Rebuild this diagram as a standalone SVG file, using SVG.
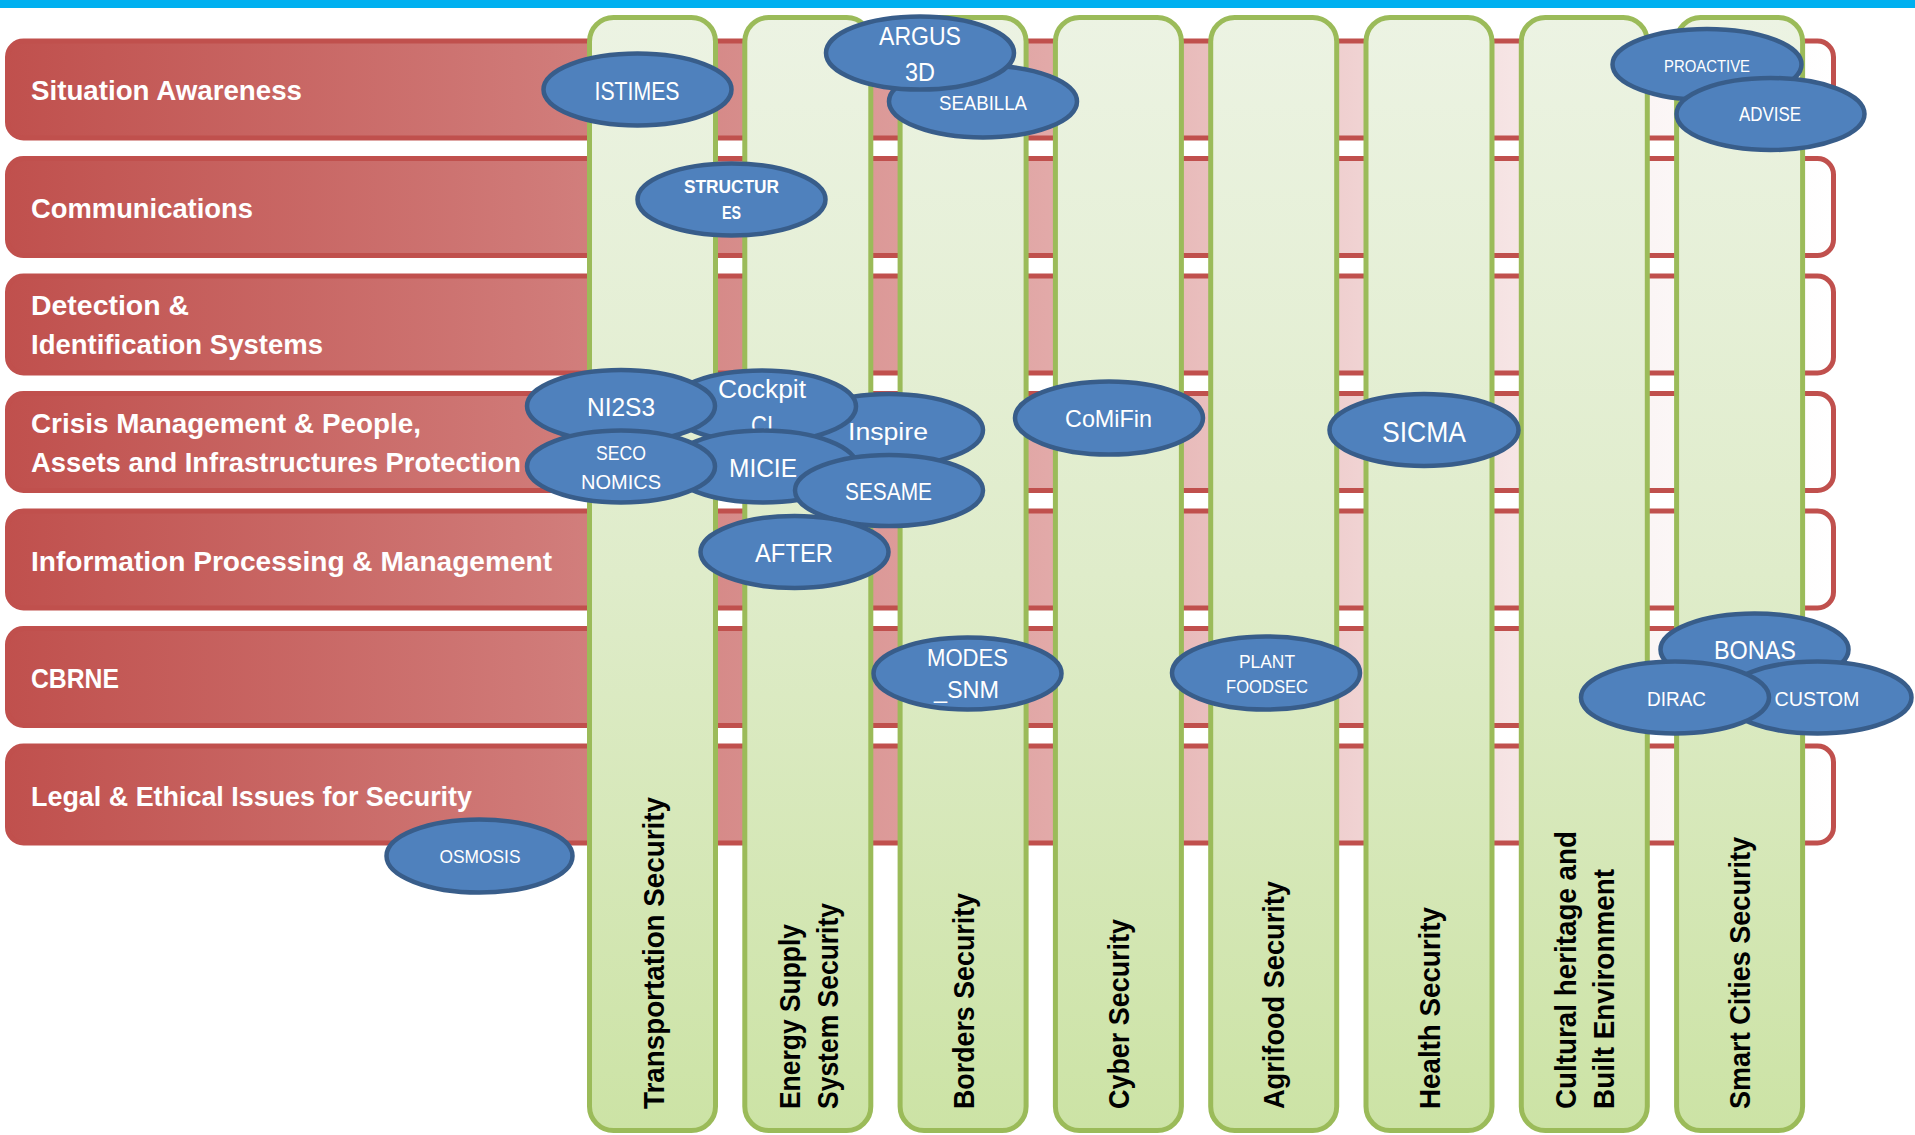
<svg xmlns="http://www.w3.org/2000/svg" width="1915" height="1135" viewBox="0 0 1915 1135">
<style>
.row{stroke:#c0504d;stroke-width:5;fill:url(#rowGrad)}
.col{stroke:#9bbb59;stroke-width:5;fill:url(#colGrad)}
.rl{font-family:"Liberation Sans",Arial,sans-serif;font-weight:bold;font-size:28px;fill:#ffffff}
.cl{font-family:"Liberation Sans",Arial,sans-serif;font-weight:bold;font-size:29px;fill:#000000}
.el{fill:#4f81bd;stroke:#385d8a;stroke-width:4.5}
.et{font-family:"Liberation Sans",Arial,sans-serif;fill:#ffffff;text-anchor:middle}
</style>
<defs>
<linearGradient id="rowGrad" gradientUnits="userSpaceOnUse" x1="5" y1="0" x2="1834" y2="0">
<stop offset="0" stop-color="#c0504d"/>
<stop offset="0.3" stop-color="#d07b79"/>
<stop offset="0.57" stop-color="#e2a9a8"/>
<stop offset="0.74" stop-color="#f0d2d2"/>
<stop offset="0.9" stop-color="#fbf5f5"/>
<stop offset="1" stop-color="#ffffff"/>
</linearGradient>
<linearGradient id="colGrad" gradientUnits="userSpaceOnUse" x1="0" y1="17" x2="0" y2="1130">
<stop offset="0" stop-color="#ecf3e3"/>
<stop offset="0.5" stop-color="#dfecca"/>
<stop offset="1" stop-color="#cce3a5"/>
</linearGradient>
</defs>
<rect x="0" y="0" width="1915" height="8" fill="#00b0f0"/>

<g id="rows">
<g id="row-situation"><rect class="row" x="7.5" y="41" width="1826" height="97" rx="16"/>
<text class="rl" x="31" y="100" textLength="271" lengthAdjust="spacingAndGlyphs">Situation Awareness</text></g>
<g id="row-communications"><rect class="row" x="7.5" y="158.5" width="1826" height="97" rx="16"/>
<text class="rl" x="31" y="218" textLength="222" lengthAdjust="spacingAndGlyphs">Communications</text></g>
<g id="row-detection"><rect class="row" x="7.5" y="276" width="1826" height="97" rx="16"/>
<text class="rl" x="31" y="315" textLength="158" lengthAdjust="spacingAndGlyphs">Detection &amp;</text>
<text class="rl" x="31" y="354" textLength="292" lengthAdjust="spacingAndGlyphs">Identification Systems</text></g>
<g id="row-crisis"><rect class="row" x="7.5" y="393.5" width="1826" height="97" rx="16"/>
<text class="rl" x="31" y="433" textLength="390" lengthAdjust="spacingAndGlyphs">Crisis Management &amp; People,</text>
<text class="rl" x="31" y="472" textLength="490" lengthAdjust="spacingAndGlyphs">Assets and Infrastructures Protection</text></g>
<g id="row-information"><rect class="row" x="7.5" y="511" width="1826" height="97" rx="16"/>
<text class="rl" x="31" y="571" textLength="521" lengthAdjust="spacingAndGlyphs">Information Processing &amp; Management</text></g>
<g id="row-cbrne"><rect class="row" x="7.5" y="628.5" width="1826" height="97" rx="16"/>
<text class="rl" x="31" y="688" textLength="88" lengthAdjust="spacingAndGlyphs">CBRNE</text></g>
<g id="row-legal"><rect class="row" x="7.5" y="746" width="1826" height="97" rx="16"/>
<text class="rl" x="31" y="806" textLength="441" lengthAdjust="spacingAndGlyphs">Legal &amp; Ethical Issues for Security</text></g>
</g>

<g id="columns">
<g id="col-transport"><rect class="col" x="589.5" y="17.5" width="126" height="1113" rx="24"/>
<text class="cl" transform="translate(664,1109) rotate(-90)" textLength="312" lengthAdjust="spacingAndGlyphs">Transportation Security</text></g>
<g id="col-energy"><rect class="col" x="744.8" y="17.5" width="126" height="1113" rx="24"/>
<text class="cl" transform="translate(800,1109) rotate(-90)" textLength="185" lengthAdjust="spacingAndGlyphs">Energy Supply</text>
<text class="cl" transform="translate(838,1109) rotate(-90)" textLength="206" lengthAdjust="spacingAndGlyphs">System Security</text></g>
<g id="col-borders"><rect class="col" x="900.1" y="17.5" width="126" height="1113" rx="24"/>
<text class="cl" transform="translate(974,1109) rotate(-90)" textLength="216" lengthAdjust="spacingAndGlyphs">Borders Security</text></g>
<g id="col-cyber"><rect class="col" x="1055.4" y="17.5" width="126" height="1113" rx="24"/>
<text class="cl" transform="translate(1129,1109) rotate(-90)" textLength="190" lengthAdjust="spacingAndGlyphs">Cyber Security</text></g>
<g id="col-agrifood"><rect class="col" x="1210.7" y="17.5" width="126" height="1113" rx="24"/>
<text class="cl" transform="translate(1284,1109) rotate(-90)" textLength="228" lengthAdjust="spacingAndGlyphs">Agrifood Security</text></g>
<g id="col-health"><rect class="col" x="1366" y="17.5" width="126" height="1113" rx="24"/>
<text class="cl" transform="translate(1440,1109) rotate(-90)" textLength="202" lengthAdjust="spacingAndGlyphs">Health Security</text></g>
<g id="col-cultural"><rect class="col" x="1521.3" y="17.5" width="126" height="1113" rx="24"/>
<text class="cl" transform="translate(1576,1109) rotate(-90)" textLength="278" lengthAdjust="spacingAndGlyphs">Cultural heritage and</text>
<text class="cl" transform="translate(1614,1109) rotate(-90)" textLength="240" lengthAdjust="spacingAndGlyphs">Built Environment</text></g>
<g id="col-smart"><rect class="col" x="1676.6" y="17.5" width="126" height="1113" rx="24"/>
<text class="cl" transform="translate(1750,1109) rotate(-90)" textLength="272" lengthAdjust="spacingAndGlyphs">Smart Cities Security</text></g>
</g>

<g id="connectors"></g>

<g id="projects">
<g id="p-istimes"><ellipse class="el" cx="637.5" cy="89.5" rx="94" ry="36"/>
<text class="et" x="637" y="100" font-size="25" textLength="85" lengthAdjust="spacingAndGlyphs">ISTIMES</text></g>
<g id="p-seabilla"><ellipse class="el" cx="983" cy="101.5" rx="94" ry="36"/>
<text class="et" x="983" y="110" font-size="21" textLength="88" lengthAdjust="spacingAndGlyphs">SEABILLA</text></g>
<g id="p-argus"><ellipse class="el" cx="920" cy="53" rx="94" ry="36.5"/>
<text class="et" x="920" y="45" font-size="25" textLength="82" lengthAdjust="spacingAndGlyphs">ARGUS</text>
<text class="et" x="920" y="81" font-size="25" textLength="30" lengthAdjust="spacingAndGlyphs">3D</text></g>
<g id="p-structures"><ellipse class="el" cx="731.5" cy="199.5" rx="94" ry="36"/>
<text class="et" x="731.5" y="193" font-size="18.5" font-weight="bold" textLength="95" lengthAdjust="spacingAndGlyphs">STRUCTUR</text>
<text class="et" x="731.5" y="219" font-size="18.5" font-weight="bold" textLength="19" lengthAdjust="spacingAndGlyphs">ES</text></g>
<g id="p-proactive"><ellipse class="el" cx="1707" cy="64.5" rx="94.5" ry="35.5"/>
<text class="et" x="1707" y="72" font-size="17" textLength="86" lengthAdjust="spacingAndGlyphs">PROACTIVE</text></g>
<g id="p-advise"><ellipse class="el" cx="1770.5" cy="114" rx="94" ry="36"/>
<text class="et" x="1770" y="121" font-size="19.5" textLength="62" lengthAdjust="spacingAndGlyphs">ADVISE</text></g>

<g id="p-inspire"><ellipse class="el" cx="889" cy="430" rx="94" ry="36"/>
<text class="et" x="888" y="440" font-size="23.5" textLength="80" lengthAdjust="spacingAndGlyphs">Inspire</text></g>
<g id="p-cockpit"><ellipse class="el" cx="762" cy="406.5" rx="94" ry="36"/>
<text class="et" x="762" y="398" font-size="25.5" textLength="88" lengthAdjust="spacingAndGlyphs">Cockpit</text>
<text class="et" x="762" y="434" font-size="25.5" textLength="22" lengthAdjust="spacingAndGlyphs">CI</text></g>
<g id="p-ni2s3"><ellipse class="el" cx="621" cy="406" rx="94" ry="36"/>
<text class="et" x="621" y="416" font-size="26" textLength="68" lengthAdjust="spacingAndGlyphs">NI2S3</text></g>
<g id="p-micie"><ellipse class="el" cx="763" cy="466.5" rx="94" ry="36"/>
<text class="et" x="763" y="477" font-size="26" textLength="68" lengthAdjust="spacingAndGlyphs">MICIE</text></g>
<g id="p-seconomics"><ellipse class="el" cx="621" cy="466.5" rx="94" ry="36"/>
<text class="et" x="621" y="460" font-size="21" textLength="50" lengthAdjust="spacingAndGlyphs">SECO</text>
<text class="et" x="621" y="489" font-size="21" textLength="80" lengthAdjust="spacingAndGlyphs">NOMICS</text></g>
<g id="p-sesame"><ellipse class="el" cx="889" cy="490.5" rx="94" ry="35.5"/>
<text class="et" x="888.5" y="500" font-size="24" textLength="87" lengthAdjust="spacingAndGlyphs">SESAME</text></g>
<g id="p-after"><ellipse class="el" cx="794.5" cy="552" rx="94" ry="36"/>
<text class="et" x="794" y="562" font-size="26.5" textLength="78" lengthAdjust="spacingAndGlyphs">AFTER</text></g>

<g id="p-comifin"><ellipse class="el" cx="1109" cy="418" rx="94" ry="36.5"/>
<text class="et" x="1108.5" y="427" font-size="24" textLength="87" lengthAdjust="spacingAndGlyphs">CoMiFin</text></g>
<g id="p-sicma"><ellipse class="el" cx="1424" cy="430" rx="94.5" ry="36"/>
<text class="et" x="1424" y="442" font-size="30" textLength="84" lengthAdjust="spacingAndGlyphs">SICMA</text></g>
<g id="p-modes"><ellipse class="el" cx="967.5" cy="673.5" rx="94" ry="36"/>
<text class="et" x="967.5" y="666" font-size="24" textLength="81" lengthAdjust="spacingAndGlyphs">MODES</text>
<text class="et" x="966.5" y="698" font-size="24" textLength="65" lengthAdjust="spacingAndGlyphs">_SNM</text></g>
<g id="p-plantfoodsec"><ellipse class="el" cx="1266" cy="673" rx="94" ry="36.5"/>
<text class="et" x="1267" y="668" font-size="18" textLength="56" lengthAdjust="spacingAndGlyphs">PLANT</text>
<text class="et" x="1267" y="693" font-size="18" textLength="82" lengthAdjust="spacingAndGlyphs">FOODSEC</text></g>
<g id="p-bonas"><ellipse class="el" cx="1754.5" cy="649.5" rx="94" ry="36"/>
<text class="et" x="1755" y="659" font-size="25" textLength="82" lengthAdjust="spacingAndGlyphs">BONAS</text></g>
<g id="p-custom"><ellipse class="el" cx="1817.5" cy="697.5" rx="94" ry="36"/>
<text class="et" x="1817" y="706" font-size="21" textLength="85" lengthAdjust="spacingAndGlyphs">CUSTOM</text></g>
<g id="p-dirac"><ellipse class="el" cx="1675" cy="697.5" rx="94" ry="36"/>
<text class="et" x="1676.5" y="706" font-size="21" textLength="59" lengthAdjust="spacingAndGlyphs">DIRAC</text></g>
<g id="p-osmosis"><ellipse class="el" cx="479.5" cy="856" rx="93" ry="36.5"/>
<text class="et" x="480" y="863" font-size="18" textLength="81" lengthAdjust="spacingAndGlyphs">OSMOSIS</text></g>
</g>
</svg>
